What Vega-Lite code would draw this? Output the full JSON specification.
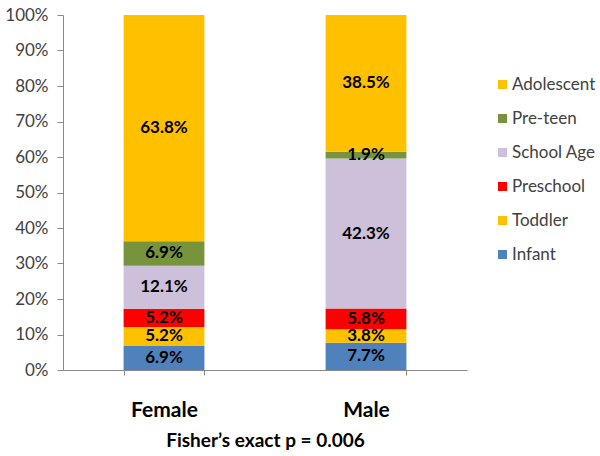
{
  "$schema": "https://vega.github.io/schema/vega-lite/v6.json",
  "width": 404,
  "height": 355,
  "autosize": "none",
  "padding": {"left": 63, "top": 15, "right": 133, "bottom": 86},
  "background": "white",
  "config": {"view": {"stroke": null}, "font": "Lato"},
  "data": {
    "values": [
      {"sex": "Female", "group": "Infant", "idx": 0, "pct": 6.9},
      {"sex": "Female", "group": "Toddler", "idx": 1, "pct": 5.2},
      {"sex": "Female", "group": "Preschool", "idx": 2, "pct": 5.2},
      {"sex": "Female", "group": "School Age", "idx": 3, "pct": 12.1},
      {"sex": "Female", "group": "Pre-teen", "idx": 4, "pct": 6.9},
      {"sex": "Female", "group": "Adolescent", "idx": 5, "pct": 63.8},
      {"sex": "Male", "group": "Infant", "idx": 0, "pct": 7.7},
      {"sex": "Male", "group": "Toddler", "idx": 1, "pct": 3.8},
      {"sex": "Male", "group": "Preschool", "idx": 2, "pct": 5.8},
      {"sex": "Male", "group": "School Age", "idx": 3, "pct": 42.3},
      {"sex": "Male", "group": "Pre-teen", "idx": 4, "pct": 1.9},
      {"sex": "Male", "group": "Adolescent", "idx": 5, "pct": 38.5}
    ]
  },
  "transform": [
    {"stack": "pct", "groupby": ["sex"], "sort": [{"field": "idx", "order": "ascending"}], "as": ["y0", "y1"], "offset": "normalize"},
    {"calculate": "(datum.y0 + datum.y1) / 2", "as": "ymid"},
    {"calculate": "format(datum.pct, '.1f') + '%'", "as": "label"}
  ],
  "encoding": {
    "x": {
      "field": "sex", "type": "nominal",
      "scale": {"paddingInner": 0.6, "paddingOuter": 0.3},
      "axis": {
        "title": "Fisher’s exact p = 0.006",
        "titleFontSize": 19, "titleFontWeight": "bold", "titleColor": "#000000", "titlePadding": 11,
        "labelAngle": 0, "labelFontSize": 21, "labelFontWeight": "bold", "labelColor": "#000000", "labelPadding": 24,
        "tickBand": "extent", "tickSize": 5, "tickColor": "#888888", "domainColor": "#888888"
      }
    }
  },
  "layer": [
    {
      "mark": {"type": "bar"},
      "encoding": {
        "y": {
          "field": "y0", "type": "quantitative",
          "scale": {"domain": [0, 1], "nice": false},
          "axis": {
            "title": null, "format": ".0%", "values": [0, 0.1, 0.2, 0.3, 0.4, 0.5, 0.6, 0.7, 0.8, 0.9, 1.0],
            "labelOverlap": false, "labelFlush": false,
            "grid": false, "labelFontSize": 17, "labelColor": "#404040", "labelPadding": 9,
            "tickSize": 6, "tickColor": "#888888", "domainColor": "#888888"
          }
        },
        "y2": {"field": "y1"},
        "color": {
          "field": "group", "type": "nominal",
          "scale": {
            "domain": ["Adolescent", "Pre-teen", "School Age", "Preschool", "Toddler", "Infant"],
            "range": ["#FFC000", "#77933C", "#CCC0DA", "#FF0000", "#FFC000", "#4F81BD"]
          },
          "legend": {
            "title": null, "orient": "none", "legendX": 431, "legendY": 61,
            "symbolType": "square", "symbolSize": 81, "symbolStrokeWidth": 0, "symbolOpacity": 1,
            "labelFontSize": 17, "labelColor": "#404040", "rowPadding": 16, "labelOffset": 1
          }
        }
      }
    },
    {
      "mark": {"type": "text", "fontSize": 17, "fontWeight": "bold", "color": "#000000", "baseline": "middle"},
      "encoding": {
        "y": {
          "field": "ymid", "type": "quantitative",
          "axis": {
            "title": null, "format": ".0%", "values": [0, 0.1, 0.2, 0.3, 0.4, 0.5, 0.6, 0.7, 0.8, 0.9, 1.0],
            "labelOverlap": false, "labelFlush": false,
            "grid": false, "labelFontSize": 17, "labelColor": "#404040", "labelPadding": 9,
            "tickSize": 6, "tickColor": "#888888", "domainColor": "#888888"
          }
        },
        "text": {"field": "label"}
      }
    }
  ]
}
